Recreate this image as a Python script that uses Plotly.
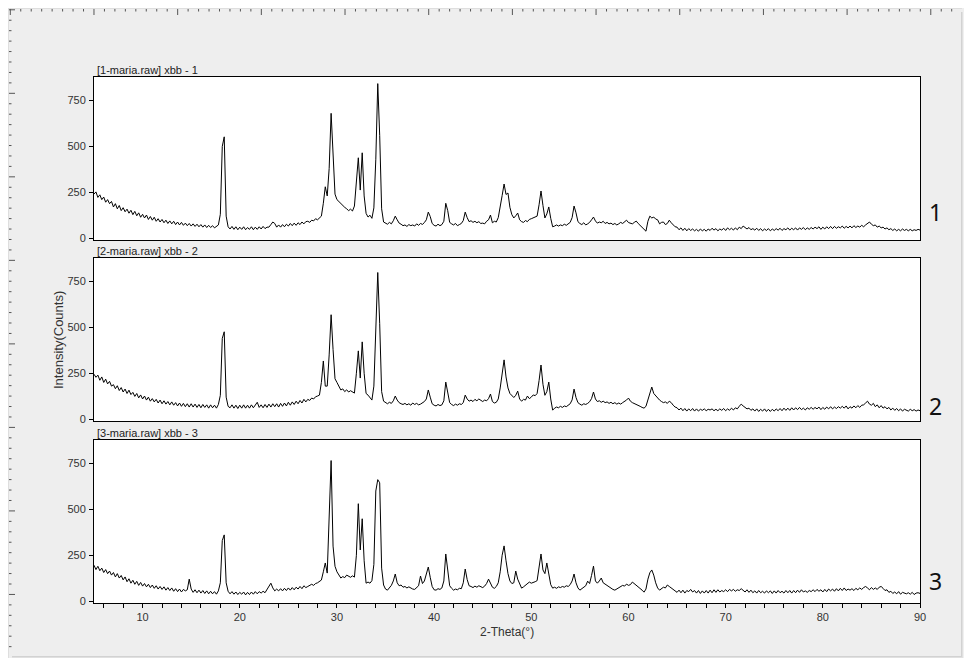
import numpy as np
import plotly.graph_objects as go

# ---------------- data (2-Theta grid 5.0 .. 90.0, step 0.2) ----------------
theta_start = 5.0
theta_step = 0.2
n_points = 426

panel_titles = ["[1-maria.raw] xbb - 1", "[2-maria.raw] xbb - 2", "[3-maria.raw] xbb - 3"]
side_labels = ["1", "2", "3"]
y_ticks = [0, 250, 500, 750]
x_ticks = [10, 20, 30, 40, 50, 60, 70, 80, 90]

counts_1 = [
    240, 252, 222, 236, 210, 224, 196, 210, 188, 200,
    170, 188, 160, 178, 150, 166, 144, 158, 136, 152,
    128, 146, 122, 138, 114, 130, 110, 126, 102, 118,
    98, 114, 92, 106, 88, 102, 84, 98, 80, 94,
    78, 92, 74, 88, 72, 86, 70, 82, 68, 80,
    66, 78, 64, 76, 62, 74, 60, 72, 58, 70,
    58, 68, 56, 66, 72, 130, 500, 552, 120, 62,
    50, 64, 48, 62, 46, 60, 48, 62, 46, 58,
    48, 62, 46, 60, 48, 62, 50, 64, 52, 60,
    60, 74, 88, 80, 60, 72, 60, 74, 62, 76,
    66, 80, 68, 82, 70, 84, 74, 88, 78, 90,
    92, 86, 98, 94, 106, 100, 112, 120, 190, 280,
    230, 380, 680, 430, 240, 210, 198, 188, 176, 168,
    160, 150, 158, 148, 175, 300, 438, 262, 465, 230,
    135, 115, 125, 108, 165, 430, 842, 560, 160, 88,
    80, 76, 86, 78, 95, 120, 100, 82, 76, 68,
    72, 64, 74, 68, 72, 66, 78, 70, 80, 75,
    85, 100, 142, 118, 80, 70, 66, 76, 68, 74,
    92, 190, 150, 86, 78, 72, 80, 68, 74, 80,
    96, 142, 112, 90, 95, 86, 92, 84, 90, 80,
    82, 78, 92, 100, 126, 84, 92, 88, 112, 165,
    232, 295, 238, 246, 168, 128, 110, 122, 137, 100,
    90, 86, 96, 90, 102, 106, 110, 116, 120, 182,
    257, 178, 110, 132, 170, 108, 62, 66, 72, 66,
    72, 68, 76, 70, 78, 86, 112, 175, 138, 90,
    80, 74, 84, 72, 78, 86, 100, 115, 94, 82,
    88, 84, 92, 80, 86, 78, 82, 74, 80, 72,
    78, 86, 80, 90, 98, 85, 80, 78, 86, 93,
    80, 70, 62, 50, 38, 92, 120, 110, 115, 104,
    100, 78, 86, 88, 74, 80, 98, 84, 70, 62,
    60, 46, 56, 42, 54, 40, 52, 42, 50, 40,
    48, 38, 50, 40, 48, 38, 50, 42, 54, 44,
    52, 40, 50, 44, 54, 42, 56, 46, 54, 44,
    56, 46, 60, 52, 66, 56, 50, 58, 46, 52,
    44, 54, 42, 52, 40, 50, 42, 52, 40, 50,
    42, 52, 44, 54, 42, 52, 46, 56, 44, 54,
    46, 56, 44, 56, 48, 58, 46, 56, 48, 58,
    50, 60, 52, 62, 48, 60, 50, 62, 52, 64,
    52, 64, 54, 62, 56, 66, 54, 64, 56, 66,
    56, 68, 58, 66, 60, 70, 62, 72, 78, 88,
    76, 68, 72, 60, 66, 56, 60, 50, 56, 46,
    52, 42, 50, 40, 48, 40, 50, 42, 48, 40,
    48, 40, 46, 42, 48, 44,
]

counts_2 = [
    245, 228, 240, 212, 230, 200, 218, 192, 206, 180,
    188, 166, 182, 156, 172, 148, 164, 140, 158, 134,
    146, 124, 140, 116, 132, 110, 126, 104, 120, 98,
    112, 94, 108, 88, 104, 84, 100, 82, 96, 78,
    94, 76, 90, 72, 88, 70, 86, 68, 84, 66,
    84, 66, 82, 64, 80, 62, 80, 64, 78, 60,
    78, 62, 76, 60, 80, 130, 440, 476, 120, 70,
    62, 78, 60, 76, 58, 76, 60, 78, 60, 76,
    60, 78, 62, 80, 92, 64, 78, 62, 80, 64,
    82, 66, 84, 68, 84, 66, 86, 70, 88, 72,
    92, 76, 94, 80, 98, 84, 102, 88, 108, 94,
    108, 102, 115, 110, 122, 126, 131, 200, 317, 180,
    180, 350, 569, 380, 220, 200, 175, 159, 165, 150,
    160, 148, 155, 150, 142, 250, 372, 224, 421, 250,
    140, 131, 120, 104, 180, 480, 799, 520, 150, 98,
    90, 84, 92, 86, 100, 126, 104, 90, 84, 80,
    86, 78, 84, 76, 88, 80, 86, 78, 82, 90,
    96, 110, 159, 120, 84, 76, 72, 80, 74, 78,
    100, 202, 150, 90, 80, 74, 82, 76, 84, 80,
    90, 131, 110, 98, 104, 96, 108, 100, 110, 102,
    96, 104, 100, 112, 137, 96, 88, 92, 110, 170,
    250, 323, 230, 170, 140, 126, 118, 130, 153, 110,
    98, 108, 104, 126, 112, 120, 132, 128, 140, 210,
    295, 190, 130, 150, 202, 110, 49, 60, 66, 62,
    70, 64, 72, 68, 76, 84, 105, 164, 118, 90,
    82, 76, 84, 80, 86, 95, 112, 148, 110, 96,
    100, 92, 98, 90, 94, 86, 92, 84, 90, 82,
    88, 82, 90, 96, 104, 115, 98, 90, 86, 82,
    78, 70, 64, 60, 70, 110, 150, 175, 140, 126,
    115, 104, 96, 90, 94, 86, 98, 90, 76, 66,
    62, 50, 60, 46, 58, 44, 56, 46, 58, 44,
    56, 44, 54, 48, 56, 46, 54, 50, 56, 46,
    54, 46, 56, 48, 58, 46, 56, 48, 60, 50,
    62, 56, 70, 82, 72, 62, 56, 60, 48, 56,
    44, 56, 42, 54, 44, 56, 42, 54, 42, 54,
    44, 56, 46, 58, 46, 60, 48, 60, 48, 62,
    50, 62, 52, 64, 52, 60, 50, 62, 54, 64,
    54, 64, 56, 66, 52, 64, 54, 66, 56, 68,
    56, 66, 58, 68, 60, 70, 60, 72, 56, 68,
    60, 72, 62, 74, 64, 76, 78, 88, 98, 82,
    76, 86, 68, 78, 62, 74, 60, 68, 56, 64,
    50, 60, 48, 58, 46, 56, 44, 54, 48, 44,
    54, 46, 52, 44, 50, 46,
]

counts_3 = [
    196, 172, 190, 166, 180, 156, 172, 150, 164, 142,
    156, 132, 150, 126, 140, 116, 132, 106, 122, 98,
    114, 92, 108, 86, 102, 82, 96, 78, 92, 74,
    88, 70, 84, 66, 80, 64, 78, 60, 74, 58,
    72, 54, 68, 52, 66, 50, 64, 56, 62, 120,
    66, 48, 62, 46, 60, 44, 58, 42, 56, 40,
    54, 40, 52, 38, 56, 100, 330, 361, 100, 54,
    40, 52, 38, 50, 36, 48, 38, 50, 34, 48,
    36, 50, 38, 52, 40, 52, 44, 54, 46, 62,
    78, 98, 72, 56, 66, 56, 68, 56, 70, 58,
    72, 60, 74, 62, 76, 66, 80, 68, 84, 74,
    80, 88, 92, 86, 96, 100, 108, 115, 160, 208,
    153, 420, 766, 300, 190, 160, 140, 126, 134, 128,
    142, 136, 130, 138, 131, 250, 531, 279, 449, 220,
    98, 104, 98, 112, 200, 600, 662, 645, 180, 88,
    66, 60, 72, 86, 110, 148, 100, 84, 88, 76,
    80, 72, 78, 70, 66, 64, 74, 84, 137, 96,
    110, 150, 186, 130, 80, 62, 60, 68, 64, 72,
    110, 257, 160, 84, 70, 60, 66, 62, 70, 68,
    100, 175, 118, 84, 80, 74, 82, 76, 84, 78,
    74, 82, 96, 120, 100, 76, 70, 80, 100, 160,
    250, 301, 220, 150, 110, 96, 100, 164, 120, 90,
    71, 78, 86, 92, 104, 98, 100, 106, 112, 180,
    257, 170, 150, 208, 140, 90, 71, 76, 70, 78,
    74, 80, 76, 84, 80, 90, 110, 148, 100, 72,
    60, 68, 76, 84, 109, 96, 140, 191, 110, 98,
    110, 126, 100, 92, 84, 78, 70, 64, 60, 66,
    72, 78, 86, 82, 93, 86, 90, 104, 96, 88,
    80, 70, 60, 49, 66, 120, 155, 170, 142, 100,
    72, 60, 68, 76, 72, 88, 80, 72, 66, 58,
    48, 60, 46, 60, 44, 58, 52, 64, 50, 58,
    44, 58, 42, 56, 44, 58, 44, 60, 46, 62,
    48, 62, 50, 58, 52, 62, 52, 64, 56, 64,
    54, 62, 58, 68, 56, 50, 62, 48, 60, 46,
    56, 44, 58, 46, 54, 44, 56, 46, 56, 42,
    56, 44, 58, 46, 54, 44, 58, 46, 58, 44,
    58, 46, 60, 48, 62, 50, 56, 48, 58, 52,
    62, 52, 64, 54, 62, 50, 64, 52, 66, 56,
    66, 54, 68, 56, 70, 58, 72, 58, 66, 60,
    68, 58, 70, 62, 72, 64, 74, 80, 72, 62,
    74, 64, 72, 64, 76, 80, 70, 58, 62, 48,
    54, 42, 50, 40, 52, 38, 48, 44, 40, 46,
    38, 48, 36, 44, 46, 42,
]

two_theta = np.round(theta_start + theta_step * np.arange(n_points), 1)
series = [counts_1, counts_2, counts_3]

# ---------------- geometry ----------------
# the page puts the figure 8 px in from the top-left corner (body margin)
OFF = 8
W, H = 956, 650
# plot-area edges in page pixels
Lr, Rr, Tr, Br = 94, 920, 77, 603


def px(xp):
    return (xp - Lr) / (Rr - Lr)


def py(yp):
    return (Br - yp) / (Br - Tr)


domains = [[py(240), 1.0], [py(421), py(258)], [0.0, py(440)]]
label_y = [212, 406, 581]

FONT = "Liberation Sans, Arial, sans-serif"

fig = go.Figure()
for i, ys in enumerate(series):
    sfx = "" if i == 0 else str(i + 1)
    fig.add_trace(go.Scatter(
        x=two_theta, y=ys, mode="lines",
        line=dict(color="black", width=1),
        xaxis="x" + sfx, yaxis="y" + sfx, showlegend=False,
        hoverinfo="x+y",
    ))

layout = dict(
    width=W, height=H,
    margin=dict(l=Lr - OFF, r=(OFF + W) - Rr, t=Tr - OFF, b=(OFF + H) - Br, pad=0, autoexpand=False),
    paper_bgcolor="#eeeeee",
    plot_bgcolor="white",
    showlegend=False,
    font=dict(family=FONT, size=11, color="#333333"),
)

for i in range(3):
    sfx = "" if i == 0 else str(i + 1)
    bottom = (i == 2)
    layout["xaxis" + sfx] = dict(
        domain=[0, 1], range=[5, 90], anchor="y" + sfx,
        showline=True, mirror=True, linecolor="black", linewidth=1,
        showgrid=False, zeroline=False,
        ticks="outside" if bottom else "", ticklen=4, tickcolor="black",
        tickvals=x_ticks if bottom else [], showticklabels=bottom,
        tickfont=dict(family=FONT, size=11, color="#333333"),
        minor=dict(dtick=2, tick0=0, ticks="outside", ticklen=4, tickcolor="black") if bottom else dict(ticks=""),
    )
    layout["yaxis" + sfx] = dict(
        domain=domains[i], range=[-10, 878], anchor="x" + sfx,
        showline=True, mirror=True, linecolor="black", linewidth=1,
        showgrid=False, zeroline=False,
        ticks="outside", ticklen=4, tickcolor="black",
        tickvals=y_ticks, ticklabelstandoff=1,
        tickfont=dict(family=FONT, size=11, color="#333333"),
    )

annotations = []
for i in range(3):
    annotations.append(dict(
        xref="paper", yref="paper", x=px(96), y=domains[i][1],
        xanchor="left", yanchor="bottom", showarrow=False,
        text=panel_titles[i], font=dict(family=FONT, size=11, color="#222222"),
        borderpad=0,
    ))
    annotations.append(dict(
        xref="paper", yref="paper", x=px(935), y=py(label_y[i]),
        xanchor="center", yanchor="middle", showarrow=False,
        text=side_labels[i], font=dict(family="Noto Sans, Open Sans, sans-serif", size=23, color="#111111"),
    ))
annotations.append(dict(
    xref="paper", yref="paper", x=px(58), y=py(340),
    xanchor="center", yanchor="middle", showarrow=False, textangle=-90,
    text="Intensity(Counts)", font=dict(family=FONT, size=13, color="#333333"),
))
annotations.append(dict(
    xref="paper", yref="paper", x=px(507), y=py(632),
    xanchor="center", yanchor="middle", showarrow=False,
    text="2-Theta(°)", font=dict(family=FONT, size=12, color="#333333"),
))
layout["annotations"] = annotations

# ---------------- frame, shadow and rulers (page pixel coords) ----------------
shapes = []


def rect(x0, y0, x1, y1, color):
    shapes.append(dict(type="rect", xref="paper", yref="paper",
                       x0=px(x0), x1=px(x1), y0=py(y0), y1=py(y1),
                       fillcolor=color, line=dict(width=0), layer="below"))


# soft shadow right / bottom
shadow = ["#d2d2d2", "#e0e0e0", "#f0f0f0", "#fafafa"]
for k, c in enumerate(shadow):
    rect(961 + k, 12, 962 + k, 658, c)
    rect(12, 656 + k, 962, 657 + k, c)
for k in range(2):
    rect(965 + k, 0, 966 + k, 666, "white")
# thin edge top/left
rect(8, 8, 962, 9, "#dedede")
rect(8, 8, 9, 658, "#dedede")

# rulers (decorative)
path_top = []
k = 0
while True:
    xp = 10.3 + k * 10.46
    if xp > 958:
        break
    ln = 6 if k % 8 == 0 else 2.5
    path_top.append("M{:.5f},{:.5f}L{:.5f},{:.5f}".format(px(xp), py(9), px(xp), py(9 + ln)))
    k += 1
path_left = []
k = 0
while True:
    yp = 9.8 + k * 10.44
    if yp > 655:
        break
    ln = 6 if k % 8 == 0 else 2.5
    path_left.append("M{:.5f},{:.5f}L{:.5f},{:.5f}".format(px(9), py(yp), px(9 + ln), py(yp)))
    k += 1
for p in (path_top, path_left):
    shapes.append(dict(type="path", xref="paper", yref="paper", path="".join(p),
                       line=dict(color="#555555", width=1)))

layout["shapes"] = shapes
fig.update_layout(**layout)

fig.write_html("out.html")
